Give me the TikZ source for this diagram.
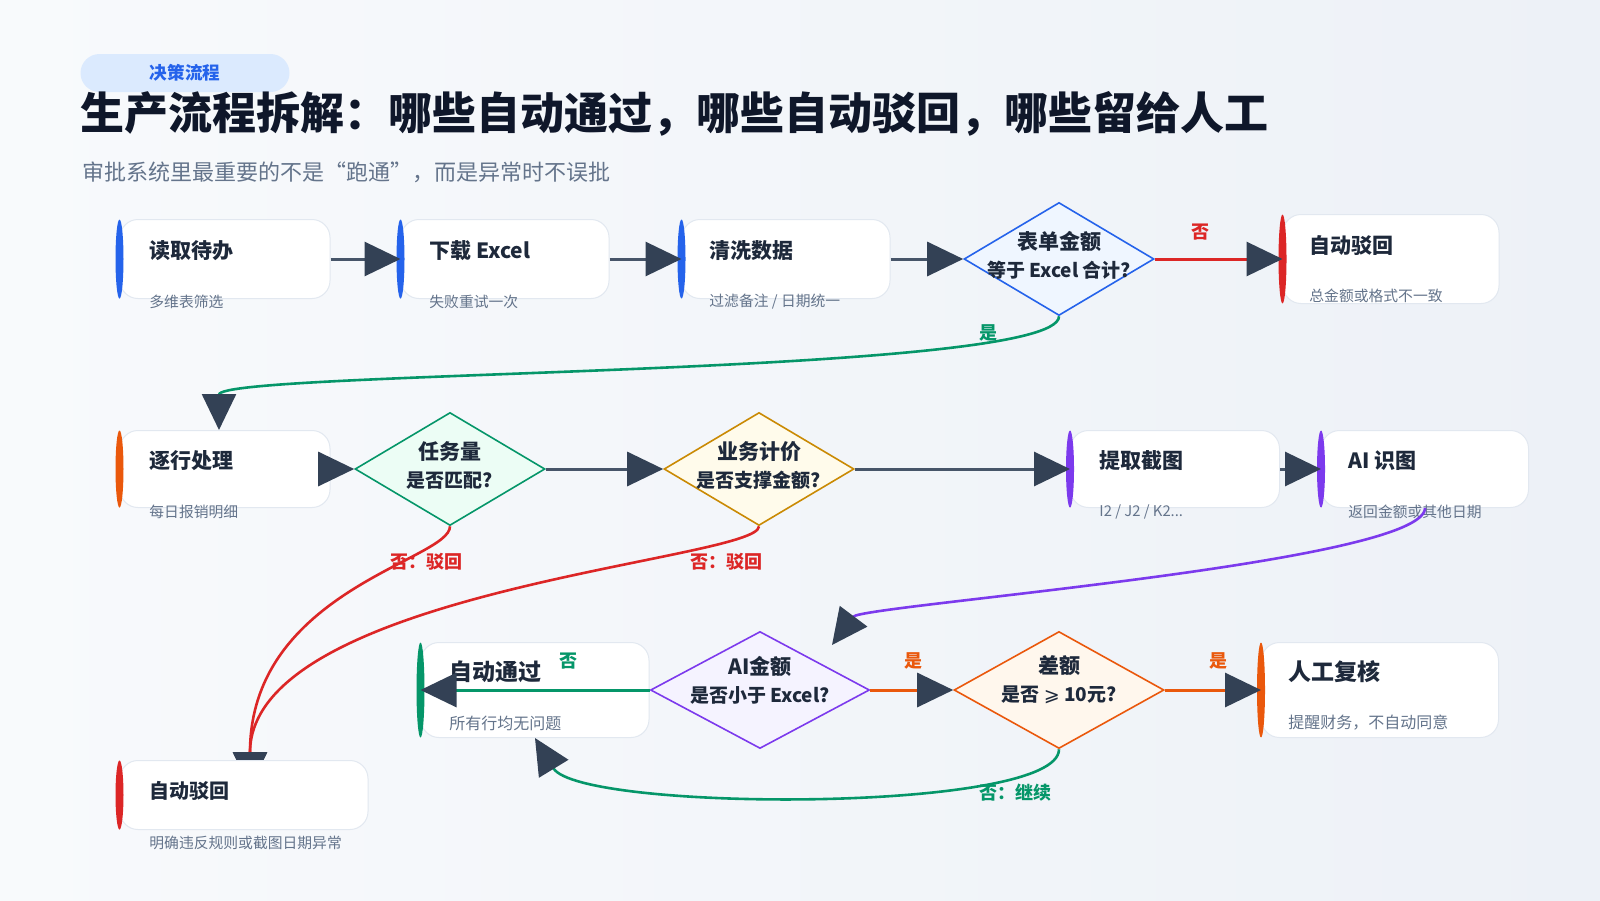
\documentclass[tikz,border=0pt]{standalone}
\usepackage{fontspec}
\setmainfont{Noto Sans CJK SC}
\newfontfamily\symfont{DejaVu Sans}
\usetikzlibrary{shapes.geometric,arrows.meta}

\definecolor{titlec}{HTML}{0F172A}
\definecolor{ink}{HTML}{1E293B}
\definecolor{muted}{HTML}{64748B}
\definecolor{lineg}{HTML}{475569}
\definecolor{tipc}{HTML}{334155}
\definecolor{edgec}{HTML}{E2E8F0}
\definecolor{bgA}{HTML}{F8FAFC}
\definecolor{bgB}{HTML}{EDF1F7}
\definecolor{pillc}{HTML}{DBEAFE}
\definecolor{cblue}{HTML}{2563EB}
\definecolor{cred}{HTML}{DC2626}
\definecolor{corange}{HTML}{EA580C}
\definecolor{cpurple}{HTML}{7C3AED}
\definecolor{cgreen}{HTML}{059669}
\definecolor{camber}{HTML}{CA8A04}
\definecolor{qblue}{HTML}{EFF6FF}
\definecolor{qgreen}{HTML}{ECFDF5}
\definecolor{qamber}{HTML}{FFFBEB}
\definecolor{qpurple}{HTML}{F5F3FF}
\definecolor{qorange}{HTML}{FFF7ED}

\begin{document}
\begin{tikzpicture}[x=0.5pt,y=-0.5pt,
  box/.style={draw=edgec, line width=0.5pt, fill=white, rounded corners=9pt, inner sep=0pt, minimum height=39.5pt},
  dmd/.style={diamond, draw=#1, line width=0.8pt, inner sep=0pt, minimum width=95pt, minimum height=56.5pt},
  ttl/.style={anchor=west, inner sep=0pt, text=ink, font=\bfseries\fontsize{10.5}{12}\selectfont},
  subtxt/.style={anchor=west, inner sep=0pt, text=muted, font=\fontsize{7.4}{9}\selectfont},
  qtxt/.style={align=center, inner sep=0pt, text=ink, font=\bfseries\fontsize{10.5}{14}\selectfont},
  lbl/.style={inner sep=0pt, font=\bfseries\fontsize{9}{10}\selectfont},
  flow/.style={line width=1.5pt, draw=lineg, -{Triangle[length=18pt,width=17pt,color=tipc]}},
  curvy/.style={line width=1.3pt, -{Triangle[length=18pt,width=17pt,color=tipc]}}]

\useasboundingbox (0,0) rectangle (1600,900);
\shade[left color=bgA, right color=bgB] (0,0) rectangle (1600,900);

% header
\node[fill=pillc, rounded corners=9.5pt, minimum width=104.5pt, minimum height=19pt, inner sep=0pt,
      text=cblue, font=\bfseries\fontsize{8.8}{10}\selectfont] (tag) at (185,73) {决策流程};
\node[anchor=west, inner sep=0pt, text=titlec, font=\bfseries\fontsize{22}{26}\selectfont] (title) at (80,114)
  {生产流程拆解：哪些自动通过，哪些自动驳回，哪些留给人工};
\node[anchor=west, inner sep=0pt, text=muted, font=\fontsize{11}{13}\selectfont] (subtitle) at (82,172)
  {审批系统里最重要的不是“跑通”，而是异常时不误批};

% row 1
\node[box, minimum width=105pt] (read) at (225,259) {};
\node[box, minimum width=104pt] (dl) at (505,259) {};
\node[box, minimum width=104pt] (clean) at (786,259) {};
\node[dmd=cblue, fill=qblue] (sum) at (1059,259) {};
\node[box, minimum width=108pt, minimum height=44.5pt] (rej1) at (1391,259) {};

% row 2
\node[box, minimum width=105pt, minimum height=38.5pt] (rows) at (225,469) {};
\node[dmd=cgreen, fill=qgreen] (task) at (450,469) {};
\node[dmd=camber, fill=qamber] (price) at (759,469) {};
\node[box, minimum width=104.5pt, minimum height=38.5pt] (shot) at (1175,469) {};
\node[box, minimum width=103.5pt, minimum height=38.5pt] (ocr) at (1425,469) {};

% row 3
\node[box, minimum width=114pt, minimum height=47.5pt] (pass) at (535,690) {};
\node[dmd=cpurple, fill=qpurple, minimum width=109.5pt, minimum height=58.5pt] (aiamt) at (760,690) {};
\node[dmd=corange, fill=qorange, minimum width=105pt, minimum height=58.5pt] (diff) at (1059,690) {};
\node[box, minimum width=118.5pt, minimum height=47.5pt] (manual) at (1380,690) {};

% rejection paths run under the lower box
\coordinate (rejin) at (250,788);
\draw[curvy, draw=cred] (task.south) .. controls +(0,34) and +(0,-198) .. (rejin);
\draw[curvy, draw=cred] (price.south) .. controls +(0,34) and +(0,-198) .. (rejin);
\node[box, minimum width=124pt, minimum height=34.5pt] (rej2) at (244,795) {};

% colour bars
\fill[cblue] (read.west) ellipse (2pt and 19.75pt);
\fill[cblue] (dl.west) ellipse (2pt and 19.75pt);
\fill[cblue] (clean.west) ellipse (2pt and 19.75pt);
\fill[cred] (rej1.west) ellipse (2pt and 22.25pt);
\fill[corange] (rows.west) ellipse (2pt and 19.25pt);
\fill[cpurple] (shot.west) ellipse (2pt and 19.25pt);
\fill[cpurple] (ocr.west) ellipse (2pt and 19.25pt);
\fill[cgreen] (pass.west) ellipse (2pt and 23.75pt);
\fill[corange] (manual.west) ellipse (2pt and 23.75pt);
\fill[cred] (rej2.west) ellipse (2pt and 17.25pt);

% box texts
\node[ttl] (readt) at (149,251) {读取待办};
\node[subtxt] (reads) at (149,302) {多维表筛选};
\node[ttl] (dlt) at (429,251) {下载 Excel};
\node[subtxt] (dls) at (429,302) {失败重试一次};
\node[ttl] (cleant) at (709,251) {清洗数据};
\node[subtxt] (cleans) at (709,302) {过滤备注 / 日期统一};
\node[ttl] (rej1t) at (1309,246) {自动驳回};
\node[subtxt] (rej1s) at (1309,296) {总金额或格式不一致};
\node[ttl] (rowst) at (149,461) {逐行处理};
\node[subtxt] (rowss) at (149,512) {每日报销明细};
\node[ttl] (shott) at (1099,461) {提取截图};
\node[subtxt] (shots) at (1099,512) {I2 / J2 / K2...};
\node[ttl] (ocrt) at (1348,461) {AI 识图};
\node[subtxt] (ocrs) at (1348,512) {返回金额或其他日期};
\node[ttl, font=\bfseries\fontsize{11.5}{13}\selectfont] (passt) at (449,672) {自动通过};
\node[subtxt, font=\fontsize{8}{10}\selectfont] (passs) at (449,723) {所有行均无问题};
\node[ttl, font=\bfseries\fontsize{11.5}{13}\selectfont] (manualt) at (1288,672) {人工复核};
\node[subtxt, font=\fontsize{8}{10}\selectfont] (manuals) at (1288,723) {提醒财务，不自动同意};
\node[ttl, font=\bfseries\fontsize{10}{12}\selectfont] (rej2t) at (149,791) {自动驳回};
\node[subtxt] (rej2s) at (149,843) {明确违反规则或截图日期异常};

% diamond texts
\node[qtxt, yshift=2pt] (sumt) at (sum) {表单金额\\{\fontsize{9.5}{14}\selectfont 等于 Excel 合计?}};
\node[qtxt, yshift=2pt] (taskt) at (task) {任务量\\{\fontsize{9.5}{14}\selectfont 是否匹配?}};
\node[qtxt, yshift=2pt] (pricet) at (price) {业务计价\\{\fontsize{9.5}{14}\selectfont 是否支撑金额?}};
\node[qtxt, yshift=5pt] (aiamtt) at (aiamt) {AI金额\\{\fontsize{9.5}{14}\selectfont 是否小于 Excel?}};
\node[qtxt, yshift=5pt] (difft) at (diff) {差额\\{\fontsize{9.5}{14}\selectfont 是否 {\symfont\mdseries ⩾} 10元?}};

% straight connectors
\draw[flow] (read) -- (dl);
\draw[flow] (dl) -- (clean);
\draw[flow] (clean) -- (sum);
\draw[flow, draw=cred] (sum) -- (rej1);
\draw[flow] (rows) -- (task);
\draw[flow] (task) -- (price);
\draw[flow] (price) -- (shot);
\draw[flow] (shot) -- (ocr);
\draw[flow, draw=cgreen] (aiamt.west) -- (pass.west);
\draw[flow, draw=corange] (aiamt) -- (diff);
\draw[flow, draw=corange] (diff) -- (manual);

% curved connectors
\coordinate (aiin) at (832,645);
\draw[curvy, draw=cgreen] (sum.south) .. controls +(0,60) and +(0,-60) .. ([xshift=-3pt]rows.north);
\draw[curvy, draw=cpurple] (ocr.south) .. controls +(0,55) and (862,605) .. (aiin);
\draw[curvy, draw=cgreen] (diff.south) .. controls +(0,64) and (580,812) .. (pass.south);

% edge labels
\node[lbl, text=cred] (no1) at (1200,232) {否};
\node[lbl, text=cgreen] (yes1) at (988,333) {是};
\node[lbl, text=cred] (no2) at (426,562) {否：驳回};
\node[lbl, text=cred] (no3) at (726,562) {否：驳回};
\node[lbl, text=cgreen] (no4) at (568,661) {否};
\node[lbl, text=corange] (yes4) at (913,661) {是};
\node[lbl, text=corange] (yes5) at (1218,661) {是};
\node[lbl, text=cgreen] (no5) at (1015,793) {否：继续};
\end{tikzpicture}
\end{document}
